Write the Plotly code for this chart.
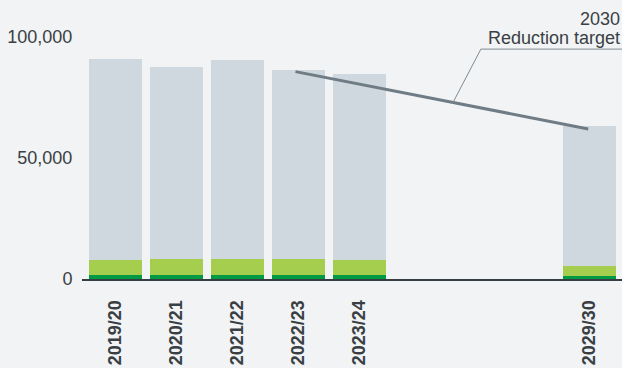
import plotly.graph_objects as go

categories = ["2019/20", "2020/21", "2021/22", "2022/23", "2023/24", "2029/30"]
x_pos = [0, 1, 2, 3, 4, 7.77]
scope1 = [1700, 1700, 1700, 1700, 1700, 1300]      # dark green
scope2 = [6200, 6600, 6600, 6600, 6200, 4100]      # light green
scope3 = [82900, 79200, 82100, 78000, 76700, 57900]  # grey
target_x = [2.95, 7.75]
target_y = [85700, 62000]
y_ticks = [0, 50000, 100000]
y_tick_text = ["0", "50,000", "100,000"]

BG = "#f1f3f5"
fig = go.Figure()
for vals, col in [(scope1, "#009a44"), (scope2, "#a5ce4e"), (scope3, "#cfd8de")]:
    fig.add_trace(go.Bar(x=x_pos, y=vals, marker=dict(color=col, line=dict(width=0)),
                         width=0.869, showlegend=False, hoverinfo="skip"))
fig.add_trace(go.Scatter(x=target_x, y=target_y, mode="lines",
                         line=dict(color="#6f7c85", width=3), showlegend=False))

# leader line
lx0 = 5.533
ly0 = target_y[0] + (lx0 - target_x[0]) / (target_x[1] - target_x[0]) * (target_y[1] - target_y[0])
fig.add_shape(type="line", xref="x", yref="y", x0=lx0, y0=ly0, x1=5.99, y1=95000,
              line=dict(color="#7f8b93", width=1))
fig.add_shape(type="line", xref="x", yref="y", x0=5.99, y0=95000, x1=8.303, y1=95000,
              line=dict(color="#7f8b93", width=1))
fig.add_annotation(xref="paper", yref="y", x=1.0, y=95000, yshift=-1, text="Reduction target",
                   showarrow=False, xanchor="right", yanchor="bottom",
                   font=dict(family="Liberation Sans, Arial", size=18, color="#3a3f44"))
fig.add_annotation(xref="paper", yref="y", x=1.0, y=95000, yshift=18, text="2030",
                   showarrow=False, xanchor="right", yanchor="bottom",
                   font=dict(family="Liberation Sans, Arial", size=18, color="#3a3f44"))

fig.update_layout(
    barmode="stack", bargap=0,
    width=622, height=368,
    margin=dict(l=82, r=0, t=10, b=89),
    paper_bgcolor=BG, plot_bgcolor=BG,
    font=dict(family="Liberation Sans, Arial", size=18, color="#3a3f44"),
)
fig.update_xaxes(range=[-0.549, 8.303], tickvals=x_pos,
                 ticktext=["<b>%s</b>" % c for c in categories], tickangle=-90,
                 showgrid=False, zeroline=False, showline=True, linecolor="#363d43", linewidth=2,
                 ticks="outside", ticklen=12, tickcolor="rgba(0,0,0,0)",
                 tickfont=dict(size=18, color="#3a3f44"))
fig.update_yaxes(range=[0, 111157], tickvals=y_ticks, ticktext=y_tick_text,
                 showgrid=False, zeroline=False, showline=False,
                 ticks="outside", ticklen=5, tickcolor="rgba(0,0,0,0)",
                 tickfont=dict(size=18, color="#3a3f44"))
fig.write_html("out.html")
